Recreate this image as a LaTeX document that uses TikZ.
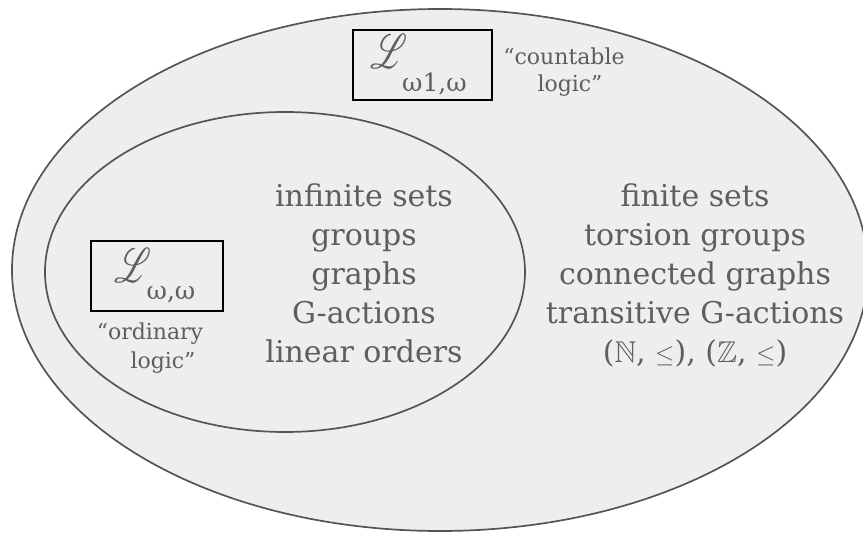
\documentclass[tikz,border=0pt]{standalone}
\usepackage{graphicx}
\usepackage{amssymb}
\usepackage{mathrsfs}
\usepackage{fontspec}
\setmainfont{DejaVu Serif}
\definecolor{setfill}{HTML}{EEEEEE}
\definecolor{edgegray}{HTML}{555555}
\definecolor{textgray}{HTML}{5E5E5E}
\tikzset{
  setline/.style={draw=edgegray, line width=1.7pt, fill=setfill},
  bodytext/.style={text=textgray, font=\fontsize{30}{39}\selectfont, inner sep=0pt, anchor=base},
  notetext/.style={text=textgray, font=\fontsize{22}{27}\selectfont, inner sep=0pt, anchor=base},
  logicbox/.style={draw=black, line width=1.7pt, minimum height=70pt, inner sep=0pt, text=textgray}
}
% script L with a lowered index: #1 = drop of the index, #2 = index
\newcommand{\logicname}[2]{%
  \resizebox{37pt}{34pt}{$\mathscr{L}$}\hspace{-5pt}%
  \raisebox{-#1}{\fontsize{25}{25}\selectfont #2}}
\begin{document}
\begin{tikzpicture}[x=1pt, y=-1pt]
  \useasboundingbox (0,0) rectangle (863,534);
  \clip (0,0) rectangle (863,534);
  % the two nested classes
  \path[setline] (440,270) ellipse [x radius=428, y radius=261];
  \path[setline] (285,272) ellipse [x radius=240, y radius=160];

  % logics
  \node[logicbox, minimum width=132pt] (lww) at (157,276)
    {\logicname{17pt}{ω,ω}\hspace*{4pt}};
  \node[logicbox, minimum width=139pt] (lw1w) at (422.5,65)
    {\logicname{23pt}{ω1,ω}\hspace*{8pt}};

  % informal names
  \node[notetext] (ord1) at (150,340) {“ordinary};
  \node[notetext] (ord2) at (163,369) {logic”};
  \node[notetext] (cnt1) at (564,65) {“countable};
  \node[notetext] (cnt2) at (570,92) {logic”};

  % classes definable in the ordinary logic
  \foreach \t [count=\i] in {infinite sets, groups, graphs, G-actions, linear orders}
    \node[bodytext] (in\i) at (364,{207+39*(\i-1)}) {\t};

  % classes needing the countable logic
  \foreach \t [count=\i] in {finite sets, torsion groups, connected graphs, transitive G-actions,
      {($\mathbb{N}$, $\leq$), ($\mathbb{Z}$, $\leq$)}}
    \node[bodytext] (out\i) at (695,{207+39*(\i-1)}) {\t};
\end{tikzpicture}
\end{document}
